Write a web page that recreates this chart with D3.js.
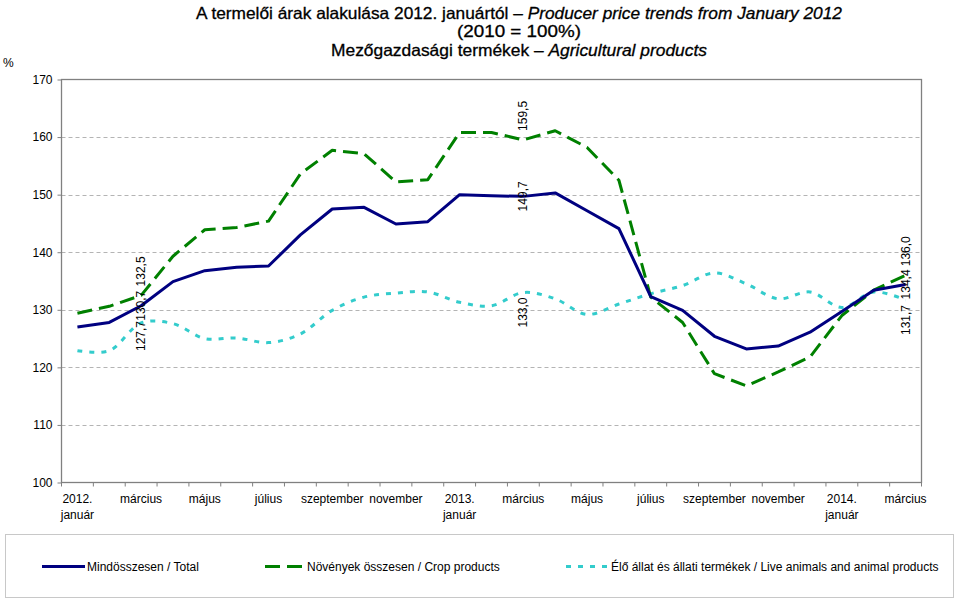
<!DOCTYPE html>
<html>
<head>
<meta charset="utf-8">
<script src="https://cdn.jsdelivr.net/npm/d3@7"></script>
<style>
  body { margin: 0; background: #fff; }
  svg { display: block; font-family: "Liberation Sans", Arial, sans-serif; }
</style>
</head>
<body>
<svg id="chart" width="960" height="600"></svg>
<script>
// ---- data ----
const months = ["2012-01","2012-02","2012-03","2012-04","2012-05","2012-06","2012-07","2012-08","2012-09","2012-10","2012-11","2012-12",
                "2013-01","2013-02","2013-03","2013-04","2013-05","2013-06","2013-07","2013-08","2013-09","2013-10","2013-11","2013-12",
                "2014-01","2014-02","2014-03"];
const tickLabels = ["2012.|január","","március","","május","","július","","szeptember","","november","",
                    "2013.|január","","március","","május","","július","","szeptember","","november","",
                    "2014.|január","","március"];
const total = [127.0,127.8,130.7,134.9,136.8,137.4,137.6,143.0,147.5,147.8,144.9,145.3,
               150.0,149.8,149.7,150.3,147.2,144.1,132.3,129.9,125.4,123.2,123.7,126.1,
               129.7,133.4,134.4];
const crop = [129.4,130.6,132.5,139.3,143.9,144.3,145.4,153.6,157.7,157.1,152.2,152.6,
              160.8,160.8,159.5,161.1,158.2,152.5,132.2,127.8,118.9,116.8,119.2,121.8,
              129.0,133.4,136.0];
const animal = [122.9,122.9,127.7,127.6,125.0,125.1,124.3,125.8,129.9,132.2,132.9,133.1,
                131.3,130.7,133.0,131.9,129.2,131.0,132.8,134.2,136.4,134.5,131.9,133.1,
                130.4,133.1,131.7];
const yTicks = [100,110,120,130,140,150,160,170];
const labelledIdx = [2,14,26];
const seriesNames = ["Mindösszesen / Total","Növények összesen / Crop products","Élő állat és állati termékek / Live animals and animal products"];
const titleLines = [
  [{t:"A termelői árak alakulása 2012. januártól – ", i:false},{t:"Producer price trends from January 2012", i:true}],
  [{t:"(2010 = 100%)", i:false}],
  [{t:"Mezőgazdasági termékek – ", i:false},{t:"Agricultural products", i:true}]
];

// ---- layout ----
const svg = d3.select("#chart");
const plot = {left: 61.5, right: 921.5, top: 79.5, bottom: 482.5};

const x = d3.scaleBand().domain(months).range([plot.left, plot.right]).padding(0);
const y = d3.scaleLinear().domain([100,170]).range([plot.bottom, plot.top]);
const cx = m => x(m) + x.bandwidth()/2;

// title (condensed, like the original narrow face)
const titleWidths = [646, 124, 376];
const titleBase = [18.5, 37, 55.5];
const title = svg.append("g").attr("font-size", 16.5).attr("fill", "#000")
  .attr("stroke", "#000").attr("stroke-width", 0.3).attr("text-anchor", "middle");
titleLines.forEach((line, li) => {
  const t = title.append("text").attr("x", 519).attr("y", titleBase[li])
    .attr("textLength", titleWidths[li]).attr("lengthAdjust", "spacingAndGlyphs");
  line.forEach(p => t.append("tspan").text(p.t).attr("font-style", p.i ? "italic" : "normal"));
});
svg.append("text").attr("x", 3).attr("y", 67).attr("font-size", 12).text("%");

// gridlines
svg.append("g").selectAll("line").data(yTicks.filter(v => v > 100 && v < 170)).join("line")
  .attr("x1", plot.left).attr("x2", plot.right)
  .attr("y1", d => Math.round(y(d)) + 0.5).attr("y2", d => Math.round(y(d)) + 0.5)
  .attr("stroke", "#b4b4b4").attr("stroke-dasharray", "4,3").attr("stroke-width", 1);

// plot frame
svg.append("rect").attr("x", plot.left).attr("y", plot.top)
  .attr("width", plot.right - plot.left).attr("height", plot.bottom - plot.top)
  .attr("fill", "none").attr("stroke", "#808080").attr("stroke-width", 1.3);

// y axis
const yAxis = svg.append("g").attr("transform", `translate(${plot.left},0)`)
  .call(d3.axisLeft(y).tickValues(yTicks).tickSize(4).tickPadding(5).tickFormat(d3.format("d")));
yAxis.select(".domain").remove();
yAxis.selectAll(".tick line").attr("stroke", "#808080");
yAxis.selectAll(".tick text").attr("font-size", 12).attr("font-family", "Liberation Sans, Arial, sans-serif").attr("fill", "#000");

// x axis ticks at band boundaries
const xb = svg.append("g");
xb.selectAll("line").data(months.concat(["end"])).join("line")
  .attr("x1", (d,i) => plot.left + i*x.bandwidth()).attr("x2", (d,i) => plot.left + i*x.bandwidth())
  .attr("y1", plot.bottom).attr("y2", plot.bottom + 4)
  .attr("stroke", "#808080");
const xl = svg.append("g").attr("font-size", 12).attr("text-anchor", "middle").attr("fill", "#000");
tickLabels.forEach((lab, i) => {
  if (!lab) return;
  const parts = lab.split("|");
  const t = xl.append("text").attr("x", cx(months[i])).attr("y", 503);
  parts.forEach((p, k) => t.append("tspan").attr("x", cx(months[i])).attr("dy", k === 0 ? 0 : 16).text(p));
});

// lines
const series = [
  {vals: total, color: "#000080", dash: null, curve: d3.curveLinear, labelDy: 0},
  {vals: crop, color: "#008000", dash: "15,7", curve: d3.curveLinear, labelDy: -24},
  {vals: animal, color: "#33CCCC", dash: "5,7", curve: d3.curveCatmullRom.alpha(0.5), labelDy: 20}
];
const drawOrder = [2,1,0];
drawOrder.forEach(si => {
  const s = series[si];
  const line = d3.line().x((d,i) => cx(months[i])).y(d => y(d)).curve(s.curve);
  svg.append("path").datum(s.vals).attr("d", line)
    .attr("fill", "none").attr("stroke", s.color).attr("stroke-width", 3)
    .attr("stroke-dasharray", s.dash).attr("stroke-linejoin", "round");
});

// data labels (rotated)
const fmt = v => d3.format(".1f")(v).replace(".", ",");
const lbl = svg.append("g").attr("font-size", 12).attr("fill", "#000").attr("text-anchor", "middle");
series.forEach((s, si) => {
  labelledIdx.forEach(i => {
    let dy = s.labelDy;
    if (si === 2 && i === 2) dy = 13;
    const px = cx(months[i]), py = y(s.vals[i]) + dy;
    lbl.append("text").attr("transform", `translate(${px + 4},${py}) rotate(-90)`)
      .text(fmt(s.vals[i]));
  });
});

// legend
svg.append("rect").attr("x", 5.5).attr("y", 534.5).attr("width", 948).attr("height", 63)
  .attr("fill", "none").attr("stroke", "#c8c8c8").attr("stroke-width", 1);
const legendItems = [
  {x: 42, textX: 87},
  {x: 265, textX: 307},
  {x: 566, textX: 611}
];
legendItems.forEach((it, i) => {
  const s = series[i];
  svg.append("line").attr("x1", it.x).attr("x2", it.textX - 2).attr("y1", 566.5).attr("y2", 566.5)
    .attr("stroke", s.color).attr("stroke-width", 3).attr("stroke-dasharray", s.dash);
  svg.append("text").attr("x", it.textX).attr("y", 570.5).attr("font-size", 12).attr("fill", "#000")
    .text(seriesNames[i]);
});
</script>
</body>
</html>
